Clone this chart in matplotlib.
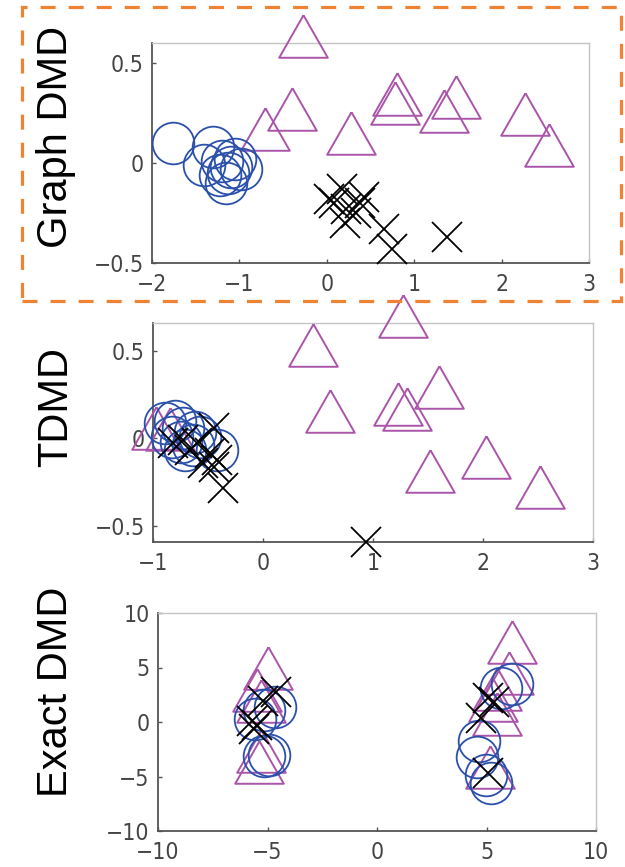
import matplotlib
matplotlib.use("Agg")
import matplotlib.pyplot as plt
from matplotlib import font_manager as fm
from matplotlib.patches import Rectangle
import numpy as np

plt.rcParams['lines.scale_dashes'] = False

# ---------------- data ----------------
titles = ["Graph DMD", "TDMD", "Exact DMD"]

g_circ_x = [-1.76, -1.30, -1.40, -1.20, -1.13, -1.15, -0.98, -1.05, -1.10, -1.22]
g_circ_y = [0.10, 0.08, -0.01, 0.01, -0.05, -0.10, -0.03, 0.02, -0.02, -0.06]
g_tri_x = [-0.27, -0.40, -0.71, 0.28, 0.80, 0.78, 1.34, 1.48, 2.27, 2.54]
g_tri_y = [0.635, 0.27, 0.17, 0.15, 0.345, 0.30, 0.26, 0.33, 0.245, 0.09]
g_x_x = [0.03, 0.08, 0.17, 0.22, 0.21, 0.33, 0.38, 0.43, 0.66, 0.75, 1.37]
g_x_y = [-0.18, -0.20, -0.13, -0.23, -0.30, -0.25, -0.20, -0.17, -0.33, -0.43, -0.37]

t_circ_x = [-0.89, -0.80, -0.73, -0.83, -0.75, -0.62, -0.57, -0.71, -0.42, -0.64]
t_circ_y = [0.087, 0.10, 0.06, 0.007, -0.02, 0.035, 0.007, -0.07, -0.07, -0.04]
t_tri_x = [1.27, 0.45, 0.61, 1.23, 1.31, 1.60, 2.03, 1.52, 2.52, -0.97, -0.85]
t_tri_y = [0.70, 0.53, 0.155, 0.195, 0.167, 0.29, -0.11, -0.19, -0.28, 0.06, 0.05]
t_x_x = [0.94, -0.36, -0.45, -0.42, -0.48, -0.55, -0.45, -0.82, -0.73, -0.66, -0.60]
t_x_y = [-0.594, -0.285, -0.165, -0.125, -0.085, -0.14, 0.06, -0.03, -0.01, -0.07, -0.03]

e_circ_x = [-5.57, -4.65, -5.15, -5.16, -4.93, 5.65, 6.16, 4.68, 4.56, 4.97, 5.20]
e_circ_y = [0.27, 1.40, 1.10, -3.10, -3.00, 3.10, 3.50, -1.70, -3.20, -4.90, -5.60]
e_tri_x = [-4.98, -5.47, -5.30, -5.40, -5.30, 6.15, 6.03, 5.50, 5.30, 5.50, 5.16]
e_tri_y = [5.00, 2.90, 1.90, -3.70, -2.70, 7.37, 4.50, 3.00, 2.00, 0.70, -4.10]
e_x_x = [-4.63, -5.20, -5.71, -5.50, -5.60, 4.74, 5.34, 5.05, 5.07]
e_x_y = [2.78, 1.90, 0.10, -0.30, -0.60, 0.36, 1.86, 2.20, -4.70]

xlims = [(-2, 3), (-1, 3), (-10, 10)]
ylims = [(-0.5, 0.6), (-0.593, 0.658), (-10, 10)]
xticks = [[-2, -1, 0, 1, 2, 3], [-1, 0, 1, 2, 3], [-10, -5, 0, 5, 10]]
yticks = [[-0.5, 0, 0.5], [-0.5, 0, 0.5], [-10, -5, 0, 5, 10]]
ytick_labels = [["\u22120.5", "0", "0.5"], ["\u22120.5", "0", "0.5"],
                ["\u221210", "\u22125", "0", "5", "10"]]

# ---------------- fonts ----------------
tick_font = "DejaVu Sans"
tick_stretch = "normal"
try:
    p = fm.findfont(fm.FontProperties(family="DejaVu Sans", stretch="condensed"),
                    fallback_to_default=False)
    if "Condensed" in p:
        tick_stretch = "condensed"
    else:
        p2 = fm.findfont(fm.FontProperties(family="Liberation Sans Narrow"),
                         fallback_to_default=False)
        if "Narrow" in p2:
            tick_font = "Liberation Sans Narrow"
except Exception:
    pass

W, H = 625, 867
fig = plt.figure(figsize=(W / 100, H / 100), dpi=100)

boxes = [(152, 43, 589, 263), (153, 323, 593, 542), (158, 613, 596, 831)]
label_pos = [(56, 137), (56, 407), (56, 692)]

blue = "#2A50AA"
purple = "#AA55AA"
tri_marker = [(0, 0.875), (-1, -0.875), (1, -0.875), (0, 0.875)]

data = [
    (g_circ_x, g_circ_y, g_tri_x, g_tri_y, g_x_x, g_x_y),
    (t_circ_x, t_circ_y, t_tri_x, t_tri_y, t_x_x, t_x_y),
    (e_circ_x, e_circ_y, e_tri_x, e_tri_y, e_x_x, e_x_y),
]

for i, (l, t, r, b) in enumerate(boxes):
    ax = fig.add_axes([l / W, 1 - b / H, (r - l) / W, (b - t) / H])
    cx, cy, tx, ty, xx, xy = data[i]
    ax.plot(tx, ty, linestyle="none", marker=tri_marker, markersize=35,
            markerfacecolor="none", markeredgecolor=purple, markeredgewidth=1.4,
            clip_on=False, zorder=3)
    ax.plot(cx, cy, linestyle="none", marker="o", markersize=30,
            markerfacecolor="none", markeredgecolor=blue, markeredgewidth=1.3,
            clip_on=False, zorder=4)
    ax.plot(xx, xy, linestyle="none", marker="x", markersize=22,
            markerfacecolor="none", markeredgecolor="black", markeredgewidth=1.3,
            clip_on=False, zorder=5)
    ax.set_xlim(*xlims[i])
    ax.set_ylim(*ylims[i])
    ax.set_xticks(xticks[i])
    ax.set_xticklabels([str(v).replace("-", "\u2212") for v in xticks[i]])
    ax.set_yticks(yticks[i])
    ax.set_yticklabels(ytick_labels[i])
    for s in ["left", "bottom"]:
        ax.spines[s].set_color("#555555")
        ax.spines[s].set_linewidth(1.3)
    for s in ["top", "right"]:
        ax.spines[s].set_color("#c4c4c4")
        ax.spines[s].set_linewidth(1.0)
    ax.tick_params(direction="in", length=3, width=1.0, color="#555555",
                   labelcolor="#444444", labelsize=16.5, top=False, right=False)
    ax.tick_params(axis="x", pad=7)
    ax.tick_params(axis="y", pad=6)
    for lab in ax.get_xticklabels() + ax.get_yticklabels():
        lab.set_family(tick_font)
        lab.set_stretch(tick_stretch)
    ax.set_facecolor("none")
    lx, ly = label_pos[i]
    fig.text(lx / W, 1 - ly / H, titles[i], rotation=90, ha="center", va="center",
             fontsize=30, family="Liberation Sans", color="black")

# orange dashed frame
rect = Rectangle((22 / W, 1 - 301 / H), (621 - 22) / W, (301 - 7) / H,
                 transform=fig.transFigure, fill=False, edgecolor="#EE8433",
                 linewidth=2.3, linestyle=(0, (10.8, 9.4)), zorder=10)
fig.patches.append(rect)

fig.savefig("out.png", dpi=100)
